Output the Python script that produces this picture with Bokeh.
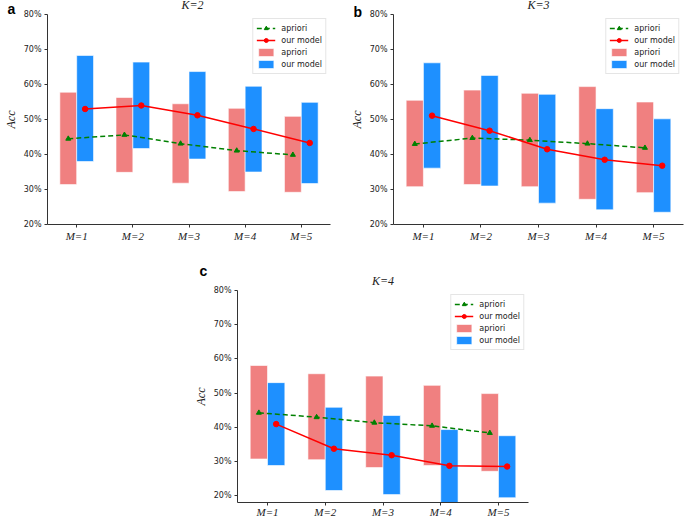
import math
from bokeh.plotting import figure
from bokeh.models import (Range1d, FixedTicker, NumeralTickFormatter, Label,
                          Legend, LegendItem, ColumnDataSource, Spacer)
from bokeh.layouts import column, row
from bokeh.transform import dodge
from bokeh.embed import file_html
from bokeh.resources import INLINE

# ---------------- data ----------------
categories = ["M=1", "M=2", "M=3", "M=4", "M=5"]
y_ticks = [0.2, 0.3, 0.4, 0.5, 0.6, 0.7, 0.8]

# K=2
k2_apriori_low = [0.314, 0.349, 0.318, 0.294, 0.292]
k2_apriori_high = [0.578, 0.563, 0.545, 0.532, 0.509]
k2_model_low = [0.380, 0.417, 0.387, 0.350, 0.317]
k2_model_high = [0.683, 0.664, 0.637, 0.595, 0.549]
k2_apriori_acc = [0.445, 0.456, 0.431, 0.411, 0.399]
k2_model_acc = [0.530, 0.540, 0.512, 0.473, 0.433]

# K=3
k3_apriori_low = [0.308, 0.314, 0.308, 0.272, 0.291]
k3_apriori_high = [0.555, 0.584, 0.575, 0.594, 0.550]
k3_model_low = [0.361, 0.310, 0.261, 0.242, 0.235]
k3_model_high = [0.662, 0.626, 0.572, 0.531, 0.502]
k3_apriori_acc = [0.430, 0.447, 0.441, 0.431, 0.419]
k3_model_acc = [0.511, 0.468, 0.415, 0.385, 0.368]

# K=4
k4_apriori_low = [0.308, 0.306, 0.283, 0.289, 0.272]
k4_apriori_high = [0.581, 0.557, 0.550, 0.523, 0.499]
k4_model_low = [0.289, 0.216, 0.204, 0.170, 0.195]
k4_model_high = [0.531, 0.459, 0.435, 0.394, 0.376]
k4_apriori_acc = [0.443, 0.430, 0.414, 0.405, 0.384]
k4_model_acc = [0.410, 0.338, 0.319, 0.288, 0.286]

BAR_RED = "#F08080"
BAR_BLUE = "#1E90FF"
LINE_RED = "#FF0000"
LINE_GREEN = "#008000"
TEXT = "#222222"


def make_panel(title, letter, a_low, a_high, m_low, m_high, a_acc, m_acc,
               width, height, bl, br, bt, bb, ymin, letter_dx, letter_top,
               letter_below, x_standoff):
    fw = width - bl - br
    src = ColumnDataSource(dict(
        x=list(range(len(categories))), a_low=a_low, a_high=a_high,
        m_low=m_low, m_high=m_high, a_acc=a_acc, m_acc=m_acc))
    p = figure(width=width, height=height, x_range=Range1d(-0.52, 4.52),
               y_range=Range1d(ymin, 0.8), output_backend="svg",
               toolbar_location=None, min_border_left=bl, min_border_right=br,
               min_border_top=bt, min_border_bottom=bb)
    p.title.text = ""
    p.outline_line_color = None
    p.grid.visible = False
    p.background_fill_color = "white"
    p.border_fill_color = "white"

    rbar = p.vbar(x=dodge("x", -0.15), width=0.3, bottom="a_low", top="a_high",
                  source=src, fill_color=BAR_RED, line_color="white",
                  line_alpha=0.6, line_width=1)
    bbar = p.vbar(x=dodge("x", 0.15), width=0.3, bottom="m_low", top="m_high",
                  source=src, fill_color=BAR_BLUE, line_color="white",
                  line_alpha=0.6, line_width=1)
    gline = p.line(x=dodge("x", -0.15), y="a_acc", source=src, line_color=LINE_GREEN,
                   line_width=1.5, line_dash="5 3")
    gsc = p.scatter(x=dodge("x", -0.15), y="a_acc", source=src, marker="triangle",
                    size=5, fill_color=LINE_GREEN, line_color=LINE_GREEN)
    rline = p.line(x=dodge("x", 0.15), y="m_acc", source=src, line_color=LINE_RED,
                   line_width=1.5)
    rsc = p.scatter(x=dodge("x", 0.15), y="m_acc", source=src, marker="circle",
                    size=5.5, fill_color=LINE_RED, line_color=LINE_RED)

    # axes
    p.yaxis.ticker = FixedTicker(ticks=y_ticks)
    p.yaxis.formatter = NumeralTickFormatter(format="0%")
    p.xaxis.ticker = FixedTicker(ticks=list(range(len(categories))))
    p.xaxis.major_label_overrides = {i: c for i, c in enumerate(categories)}
    for ax in (p.xaxis, p.yaxis):
        ax.axis_line_color = "#333333"
        ax.axis_line_width = 1
        ax.major_tick_line_color = "#333333"
        ax.major_tick_in = 0
        ax.major_tick_out = 3
        ax.minor_tick_line_color = None
        ax.major_label_text_color = TEXT
    p.yaxis.major_label_text_font = "DejaVu Sans"
    p.yaxis.major_label_text_font_size = "8px"
    p.yaxis.major_label_standoff = 3
    p.yaxis.axis_label = "Acc"
    p.yaxis.axis_label_text_font = "Liberation Serif"
    p.yaxis.axis_label_text_font_style = "italic"
    p.yaxis.axis_label_text_font_size = "12px"
    p.yaxis.axis_label_text_color = TEXT
    p.yaxis.axis_label_standoff = 3
    p.xaxis.major_label_text_font = "Liberation Serif"
    p.xaxis.major_label_text_font_style = "italic"
    p.xaxis.major_label_text_font_size = "11px"
    p.xaxis.major_label_standoff = x_standoff

    # legend
    legend = Legend(items=[
        LegendItem(label="apriori", renderers=[gline, gsc]),
        LegendItem(label="our model", renderers=[rline, rsc]),
        LegendItem(label="apriori", renderers=[rbar]),
        LegendItem(label="our model", renderers=[bbar]),
    ], location="top_right")
    legend.margin = 4
    legend.padding = 3
    legend.spacing = 0
    legend.label_text_font = "DejaVu Sans"
    legend.label_text_font_size = "8px"
    legend.label_text_color = TEXT
    legend.label_height = 12
    legend.glyph_height = 10
    legend.glyph_width = 19
    legend.label_standoff = 6
    legend.border_line_color = "#cccccc"
    legend.background_fill_alpha = 0.8
    p.add_layout(legend, "center")

    # panel title above the frame
    p.add_layout(Label(x=fw / 2, y=3, x_units="screen", y_units="screen",
                       text=title, text_font="Liberation Serif",
                       text_font_style="italic", text_font_size="12px",
                       text_color=TEXT, text_align="center", text_baseline="bottom"),
                 "above")
    # panel letter
    if letter_below:
        # side panel below the x axis; its bottom is the canvas bottom
        p.add_layout(Label(x=letter_dx, y=height - letter_top,
                           x_units="screen", y_units="screen",
                           text=letter, text_font="Liberation Sans",
                           text_font_style="bold", text_font_size="14px",
                           text_color="black", text_align="left", text_baseline="top"),
                     "below")
    else:
        p.add_layout(Label(x=letter_dx, y=letter_top, x_units="screen", y_units="screen",
                           text=letter, text_font="Liberation Sans",
                           text_font_style="bold", text_font_size="14px",
                           text_color="black", text_align="left", text_baseline="top"),
                     "above")
    return p


pa = make_panel("K=2", "a", k2_apriori_low, k2_apriori_high, k2_model_low, k2_model_high,
                k2_apriori_acc, k2_model_acc, 340, 260, 40, 10, 13, 0, 0.2, -40, 0,
                True, 2)
pb = make_panel("K=3", "b", k3_apriori_low, k3_apriori_high, k3_model_low, k3_model_high,
                k3_apriori_acc, k3_model_acc, 345, 260, 53, 2, 13, 0, 0.2, -40, 3,
                True, 2)
pc = make_panel("K=4", "c", k4_apriori_low, k4_apriori_high, k4_model_low, k4_model_high,
                k4_apriori_acc, k4_model_acc, 350, 260, 50, 9, 30, 17, 0.181, -38, 14,
                False, 0)

layout = column(row(pa, pb), row(Spacer(width=187, height=260), pc))

with open("out.html", "w") as f:
    f.write(file_html(layout, INLINE, title="Acc"))
